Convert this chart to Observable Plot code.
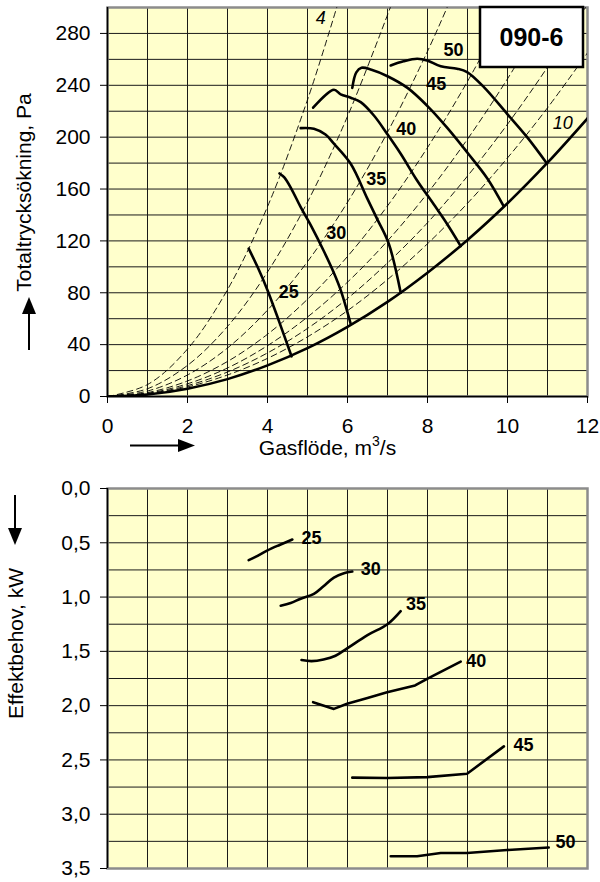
<!DOCTYPE html>
<html><head><meta charset="utf-8">
<script src="https://cdn.jsdelivr.net/npm/d3@7"></script>
<script src="https://cdn.jsdelivr.net/npm/@observablehq/plot@0.6"></script>
<style>
body{margin:0;background:#fff;}
#chart{width:600px;height:882px;position:relative;font-family:"Liberation Sans",Arial,sans-serif;}
#chart svg{display:block;}
</style></head><body><div id="chart"></div>
<script>
// ---------- tick / grid values ----------
const xTicks = [0,2,4,6,8,10,12];
const xGrid = [0,1,2,3,4,5,6,7,8,9,10,11,12];
const yTicksTop = [0,40,80,120,160,200,240,280];
const yGridTop = [0,20,40,60,80,100,120,140,160,180,200,220,240,260,280,300];
const yTicksBot = [0,0.5,1,1.5,2,2.5,3,3.5];
const yGridBot = [0,0.25,0.5,0.75,1,1.25,1.5,1.75,2,2.25,2.5,2.75,3,3.25,3.5];

// ---------- system curve (Gasflöde m3/s, Totaltrycksökning Pa) ----------
const sysQ = [0,1,2,3,4,5,6,7,8,9,10,11,12];
const sysP = [0,1.5,6,13.4,24,37.3,53.7,73,95.5,120.7,149,180.3,214.5];

// ---------- fan curves (speed label -> flow, pressure) ----------
const speeds = [25,30,35,40,45,50];
const fanQ = [
  [3.53,3.75,4.0,4.3,4.6],
  [4.3,4.42,4.6,4.83,5.1,5.41,5.65,5.83,6.08],
  [4.83,5.16,5.45,5.66,6.08,6.49,6.74,7.03,7.33],
  [5.14,5.66,5.83,6.08,6.33,6.66,6.99,7.33,7.74,8.16,8.49,8.83],
  [6.12,6.22,6.35,6.6,7.0,7.5,8.0,8.5,9.0,9.5,9.9],
  [7.08,7.4,7.74,7.99,8.33,8.74,8.99,9.41,9.99,10.49,10.99]
];
const fanP = [
  [114,100,82,57,31],
  [172,169,160,146,131,112,96,82,56],
  [207,206.5,202,195,179.5,153,137,118,80],
  [222.7,236.6,233,230.4,227,216.7,202.6,187.2,166.6,148,133,116],
  [238,250,253.5,252,247,238,224,207,188,168,147],
  [255.3,258.5,260.5,259.2,254.6,252.8,250.2,238.6,218,200,179.5]
];
const fanLabelQ = [4.53,5.72,6.72,7.47,8.22,8.65];
const fanLabelP = [80.5,125.6,167.9,206.5,241.2,266.7];

// ---------- dashed lines (positions 4 ... 10) ----------
const dashNames = [4,5,6,7,8,9,10];
const dashQ = [
  [0,1,2,3,4,5,5.73],
  [0,1,2,3,4,5,6,7.07],
  [0,1,2,3,4,5,6,7,8,8.49],
  [0,1,2,3,4,5,6,7,8,9,10],
  [0,1,2,3,4,5,6,7,8,9,10,11,11.07],
  [0,1,2,3,4,5,6,7,8,9,10,11,11.95],
  [0,1,2,3,4,5,6,7,8,9,10,11,12]
];
const dashP = [
  [0,9.2,36.6,82.4,146.4,228.8,300],
  [0,6,24,54,96,150,216,300],
  [0,4.2,16.6,37.4,66.6,104,149.8,203.8,266.2,300],
  [0,3,12,27,48,75,108,147,192,243,300],
  [0,2.45,9.8,22,39.2,61.3,88.2,120,156.8,198.5,245,296.5,300],
  [0,2.1,8.4,18.9,33.6,52.5,75.6,103,134,170,210,254,300],
  [0,1.84,7.4,16.6,29.4,46,66.2,90.2,117.8,149,184,222.6,265]
];
const dashLabels = ["4","10"];
const dashLabelQ = [5.33,11.38];
const dashLabelP = [291.4,210.6];

// ---------- power curves (flow, kW) ----------
const powQ = [
  [3.53,3.7,4.0,4.3,4.62],
  [4.33,4.58,4.83,5.16,5.4,5.66,5.91,6.12],
  [4.85,5.1,5.4,5.7,6.0,6.5,7.0,7.33],
  [5.14,5.66,5.99,6.5,6.99,7.69,7.99,8.83],
  [6.12,6.99,7.99,8.99,9.91],
  [7.08,7.74,8.33,8.99,9.99,11.03]
];
const powP = [
  [0.66,0.63,0.57,0.52,0.47],
  [1.08,1.055,1.015,0.97,0.9,0.82,0.78,0.765],
  [1.58,1.59,1.575,1.54,1.47,1.35,1.25,1.13],
  [1.968,2.03,1.983,1.93,1.876,1.814,1.753,1.594],
  [2.663,2.667,2.658,2.627,2.375],
  [3.387,3.387,3.357,3.357,3.33,3.307]
];
const powLabelQ = [5.1,6.58,7.71,9.22,10.4,11.45];
const powLabelP = [0.458,0.741,1.063,1.589,2.366,3.255];

// ---------- tables ----------
const sysRows = sysQ.map((q,i)=>({q, p: sysP[i]}));
const fanRows = speeds.flatMap((s,k)=>fanQ[k].map((q,i)=>({s, q, p: fanP[k][i]})));
const dashRows = dashNames.flatMap((n,k)=>dashQ[k].map((q,i)=>({n, q, p: dashP[k][i]})));
const powRows = speeds.flatMap((s,k)=>powQ[k].map((q,i)=>({s, q, p: powP[k][i]})));
const fanLab = speeds.map((s,i)=>({t:String(s), q:fanLabelQ[i], p:fanLabelP[i]}));
const dashLab = dashLabels.map((t,i)=>({t, q:dashLabelQ[i], p:dashLabelP[i]}));
const powLab = speeds.map((s,i)=>({t:String(s), q:powLabelQ[i], p:powLabelP[i]}));

const FONT = "Liberation Sans, Arial, sans-serif";
const GRID = "#1a1a1a";

const topPlot = Plot.plot({
  width: 600, height: 460,
  marginLeft: 107, marginRight: 13, marginTop: 7, marginBottom: 64,
  style: {fontFamily: FONT, fontSize: "21px", color: "#000", background: "transparent"},
  x: {domain: [0, 12]},
  y: {domain: [0, 300]},
  marks: [
    Plot.frame({fill: "#ffffcc", stroke: null}),
    Plot.ruleX(xGrid, {stroke: GRID, strokeWidth: 1}),
    Plot.ruleY(yGridTop, {stroke: GRID, strokeWidth: 1}),
    Plot.frame({stroke: "#8c8c8c", strokeWidth: 2.5}),
    Plot.line(dashRows, {x: "q", y: "p", z: "n", stroke: "#000", strokeWidth: 0.9, strokeDasharray: "6,4", curve: "catmull-rom", clip: true}),
    Plot.line(sysRows, {x: "q", y: "p", stroke: "#000", strokeWidth: 2.6, curve: "catmull-rom", clip: true}),
    Plot.line(fanRows, {x: "q", y: "p", z: "s", stroke: "#000", strokeWidth: 2.6, curve: "catmull-rom"}),
    Plot.ruleX([0], {stroke: "#000", strokeWidth: 1.5}),
    Plot.ruleY([0], {stroke: "#000", strokeWidth: 1.5}),
    Plot.axisX({ticks: xTicks, tickSize: 7, tickPadding: 15, fontSize: 21, label: null, stroke: "#000"}),
    Plot.axisY({ticks: yTicksTop, tickSize: 7, tickPadding: 10, fontSize: 21, label: null, stroke: "#000"}),
    Plot.text(fanLab, {x: "q", y: "p", text: "t", fontSize: 18, fontWeight: "bold", fill: "#000"}),
    Plot.text(dashLab, {x: "q", y: "p", text: "t", fontSize: 18, fontStyle: "italic", fill: "#000"})
  ]
});

const botPlot = Plot.plot({
  width: 600, height: 422,
  marginLeft: 107, marginRight: 13, marginTop: 28, marginBottom: 14,
  style: {fontFamily: FONT, fontSize: "21px", color: "#000", background: "transparent"},
  x: {domain: [0, 12], axis: null},
  y: {domain: [0, 3.5], reverse: true, axis: null},
  marks: [
    Plot.frame({fill: "#ffffcc", stroke: null}),
    Plot.ruleX(xGrid, {stroke: GRID, strokeWidth: 1}),
    Plot.ruleY(yGridBot, {stroke: GRID, strokeWidth: 1}),
    Plot.frame({stroke: "#8c8c8c", strokeWidth: 2.5}),
    Plot.line(powRows, {filter: d => d.s <= 35, x: "q", y: "p", z: "s", stroke: "#000", strokeWidth: 2.6, curve: "catmull-rom"}),
    Plot.line(powRows, {filter: d => d.s > 35, x: "q", y: "p", z: "s", stroke: "#000", strokeWidth: 2.6, curve: "linear"}),
    Plot.ruleX([0], {stroke: "#000", strokeWidth: 1.5}),
    Plot.axisY({ticks: yTicksBot, tickSize: 7, tickPadding: 10, fontSize: 21, label: null, stroke: "#000",
      tickFormat: d => d.toFixed(1).replace(".", ",")}),
    Plot.text(powLab, {x: "q", y: "p", text: "t", fontSize: 18, fontWeight: "bold", fill: "#000"})
  ]
});

const root = document.getElementById("chart");
root.appendChild(topPlot);
root.appendChild(botPlot);

// ---------- decorations: axis titles, arrows, model box ----------
const ts = d3.select(topPlot);
ts.append("text").attr("transform", "translate(31,192.5) rotate(-90)")
  .attr("text-anchor", "middle").attr("font-size", 21).attr("fill", "#000")
  .text("Totaltrycksökning, Pa");
ts.append("line").attr("x1", 29).attr("x2", 29).attr("y1", 350).attr("y2", 310)
  .attr("stroke", "#000").attr("stroke-width", 2);
ts.append("path").attr("d", "M29,297 L22,314 L36,314 Z").attr("fill", "#000");
ts.append("line").attr("x1", 130).attr("x2", 182).attr("y1", 445.5).attr("y2", 445.5)
  .attr("stroke", "#000").attr("stroke-width", 2);
ts.append("path").attr("d", "M195,445.5 L178,439 L178,452 Z").attr("fill", "#000");
const xt = ts.append("text").attr("x", 327.5).attr("y", 455).attr("text-anchor", "middle")
  .attr("font-size", 21).attr("fill", "#000");
xt.append("tspan").text("Gasflöde, m");
xt.append("tspan").attr("font-size", 14).attr("dy", -9).text("3");
xt.append("tspan").attr("dy", 9).text("/s");
ts.append("rect").attr("x", 480).attr("y", 7).attr("width", 103).attr("height", 60)
  .attr("fill", "#fff").attr("stroke", "#000").attr("stroke-width", 2.5);
ts.append("text").attr("x", 531.5).attr("y", 46).attr("text-anchor", "middle")
  .attr("font-size", 25).attr("font-weight", "bold").attr("fill", "#000").text("090-6");

const bs = d3.select(botPlot);
bs.append("text").attr("transform", "translate(23,183.5) rotate(-90)")
  .attr("text-anchor", "middle").attr("font-size", 21).attr("fill", "#000")
  .text("Effektbehov, kW");
bs.append("line").attr("x1", 15).attr("x2", 15).attr("y1", 35).attr("y2", 72)
  .attr("stroke", "#000").attr("stroke-width", 2);
bs.append("path").attr("d", "M15,85 L8,68 L22,68 Z").attr("fill", "#000");
</script></body></html>
